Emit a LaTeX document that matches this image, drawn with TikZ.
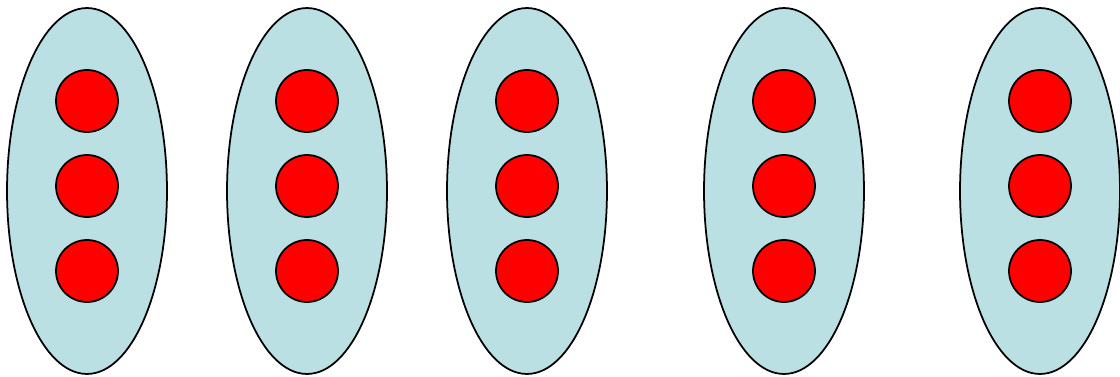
\documentclass[tikz,border=0pt]{standalone}
\usetikzlibrary{shapes.geometric}
\definecolor{groupblue}{RGB}{186,224,227}
\begin{document}
\begin{tikzpicture}[x=0.02cm, y=0.02cm,
		group/.style={ellipse, draw=black, line width=1pt, fill=groupblue, inner sep=0pt, minimum width=3.2cm, minimum height=7.32cm},
		dot/.style={circle, draw=black, line width=1pt, fill=red, inner sep=0pt, minimum size=1.24cm}]
		\useasboundingbox (0,0) rectangle (1120,376);
		\node[group] (1) at (87,185) {};
		\node[group] (2) at (307,185) {};
		\node[group] (3) at (527,185) {};
		\node[group] (4) at (784,185) {};
		\node[group] (5) at (1040,185) {};
		\node[dot] (1a) at (87,275) {};
		\node[dot] (1b) at (87,190) {};
		\node[dot] (1c) at (87,105) {};
		\node[dot] (2a) at (307,275) {};
		\node[dot] (2b) at (307,190) {};
		\node[dot] (2c) at (307,105) {};
		\node[dot] (3a) at (527,275) {};
		\node[dot] (3b) at (527,190) {};
		\node[dot] (3c) at (527,105) {};
		\node[dot] (4a) at (784,275) {};
		\node[dot] (4b) at (784,190) {};
		\node[dot] (4c) at (784,105) {};
		\node[dot] (5a) at (1040,275) {};
		\node[dot] (5b) at (1040,190) {};
		\node[dot] (5c) at (1040,105) {};
	\end{tikzpicture}
\end{document}
